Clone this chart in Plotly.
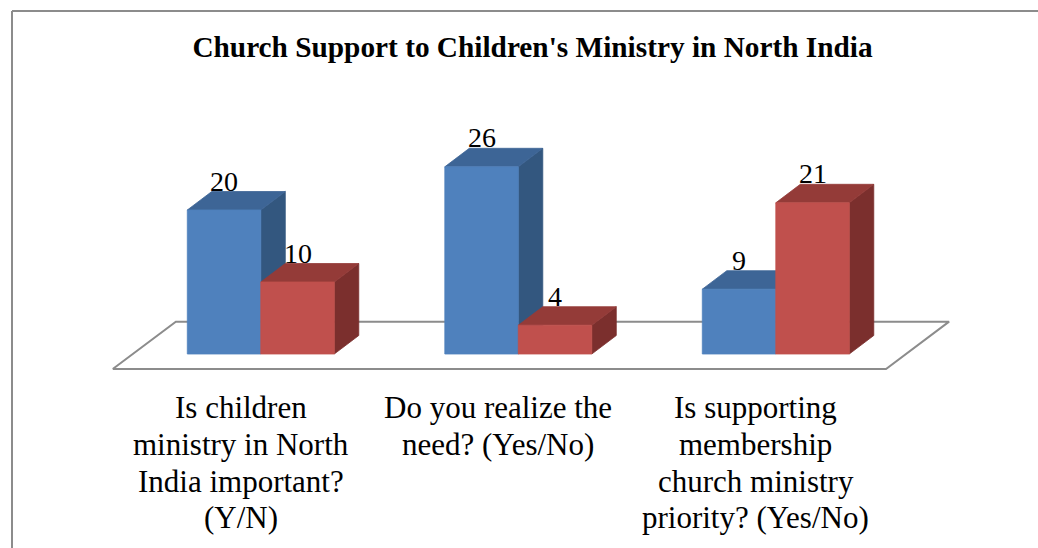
import plotly.graph_objects as go

# ---- data -------------------------------------------------------------
categories = [
    "Is children<br>ministry in North<br>India important?<br>(Y/N)",
    "Do you realize the<br>need? (Yes/No)",
    "Is supporting<br>membership<br>church ministry<br>priority? (Yes/No)",
]
yes_values = [20, 26, 9]
no_values = [10, 4, 21]
series_names = ["Yes", "No"]

# ---- geometry / styling -----------------------------------------------
W, H = 1038, 548
X_ORIGIN_PX, X_UNIT_PX = 260.8, 257.5     # group centre spacing
Y_ORIGIN_PX, Y_UNIT_PX = 354.0, 7.2       # pixels per unit of value
x_range = [-X_ORIGIN_PX / X_UNIT_PX, (W - X_ORIGIN_PX) / X_UNIT_PX]
y_range = [-(H - Y_ORIGIN_PX) / Y_UNIT_PX, Y_ORIGIN_PX / Y_UNIT_PX]

BAR_W = 0.2854          # width of one column (x units)
DX = 0.0951             # oblique depth, horizontal (x units)
DY = 2.57               # oblique depth, vertical (value units)
LABEL_SHIFT = -0.078    # category label offset from group centre
LABEL_TOP = -7.45       # centre of first category label line (value units)
LABEL_LINE = 5.1        # category label line spacing (value units)

FLOOR_FRONT_Y, FLOOR_BACK_Y = -2.08, 4.49
FLOOR_LEFT, FLOOR_RIGHT = -0.575, 2.428
FLOOR_SKEW = 0.245

styles = [
    dict(front="#4F81BD", top="#3D6596", side="#33577F"),
    dict(front="#C0504D", top="#943B38", side="#7B2F2D"),
]
FONT = "Liberation Serif"

fig = go.Figure()


def poly(xs, ys, color, name):
    fig.add_trace(go.Scatter(
        x=xs + [xs[0]], y=ys + [ys[0]], mode="lines", fill="toself",
        fillcolor=color, line=dict(color=color, width=0.8),
        hoverinfo="skip", showlegend=False, name=name))


# floor of the 3-D plot area
fx = [FLOOR_LEFT, FLOOR_RIGHT, FLOOR_RIGHT + FLOOR_SKEW, FLOOR_LEFT + FLOOR_SKEW]
fy = [FLOOR_FRONT_Y, FLOOR_FRONT_Y, FLOOR_BACK_Y, FLOOR_BACK_Y]
fig.add_trace(go.Scatter(
    x=fx + [fx[0]], y=fy + [fy[0]], mode="lines",
    line=dict(color="#8C8C8C", width=2), hoverinfo="skip", showlegend=False))

# columns: side, top, then front face, drawn left to right
annotations = []
for gi in range(len(categories)):
    for si, values in enumerate([yes_values, no_values]):
        v = values[gi]
        st = styles[si]
        x0 = gi - BAR_W + si * BAR_W
        x1 = x0 + BAR_W
        poly([x1, x1 + DX, x1 + DX, x1], [0, DY, v + DY, v], st["side"], series_names[si])
        poly([x0, x1, x1 + DX, x0 + DX], [v, v, v + DY, v + DY], st["top"], series_names[si])
        poly([x0, x1, x1, x0], [0, 0, v, v], st["front"], series_names[si])
        annotations.append(dict(
            x=(x0 + x1) / 2, y=v + DY, xref="x", yref="y", text=str(v),
            showarrow=False, yanchor="bottom", xanchor="center", yshift=-7,
            font=dict(family=FONT, size=28, color="black")))

# category labels, one annotation per wrapped line
for gi, cat in enumerate(categories):
    for li, line in enumerate(cat.split("<br>")):
        annotations.append(dict(
            x=gi + LABEL_SHIFT, y=LABEL_TOP - li * LABEL_LINE, xref="x", yref="y",
            text=line, showarrow=False, yanchor="middle", xanchor="center",
            font=dict(family=FONT, size=31, color="black")))

# chart frame (left and top edges)
shapes = [
    dict(type="line", xref="paper", yref="paper", x0=12 / W, x1=12 / W,
         y0=0, y1=1 - 11 / H, line=dict(color="#8C8C8C", width=2)),
    dict(type="line", xref="paper", yref="paper", x0=12 / W, x1=1,
         y0=1 - 11 / H, y1=1 - 11 / H, line=dict(color="#8C8C8C", width=2)),
]

fig.update_layout(
    width=W, height=H, margin=dict(l=0, r=0, t=0, b=0),
    paper_bgcolor="white", plot_bgcolor="white", showlegend=False,
    title=dict(text="<b>Church Support to Children's Ministry in North India</b>",
               x=532.5 / W, xanchor="center", y=1 - 47 / H, yanchor="middle",
               font=dict(family=FONT, size=29.3, color="black")),
    xaxis=dict(range=x_range, visible=False, fixedrange=True),
    yaxis=dict(range=y_range, visible=False, fixedrange=True),
    annotations=annotations, shapes=shapes,
)

fig.write_html("out.html")
